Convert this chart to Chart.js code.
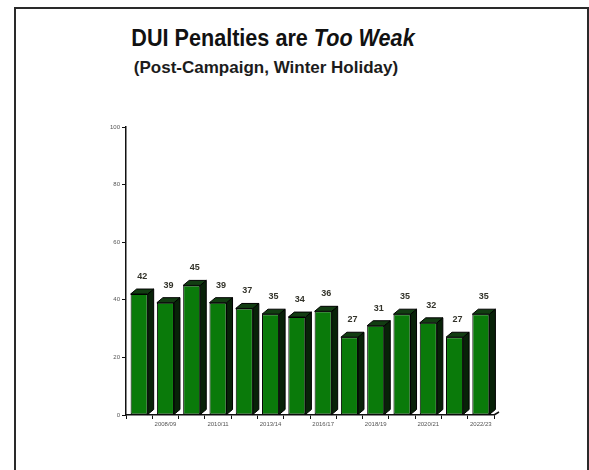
<!DOCTYPE html>
<html>
<head>
<meta charset="utf-8">
<script src="https://cdn.jsdelivr.net/npm/chart.js@4"></script>
<style>
    html, body { margin: 0; padding: 0; background: #fff; }
    #wrap { position: relative; width: 589px; height: 470px; overflow: hidden; font-family: "Liberation Sans", Arial, sans-serif; }
    #frame { position: absolute; left: 14px; top: 7px; width: 571px; height: 500px; border: 2px solid #2a2a2a; border-bottom: none; }
    .title { position: absolute; left: 0; width: 546px; text-align: center; font-weight: bold; color: #111; white-space: nowrap; }
    #t1 { top: 24px; font-size: 24px; line-height: 28px; transform: scaleX(0.9); }
    #t2 { top: 58px; width: 532px; font-size: 17px; line-height: 20px; color: #1c1c1c; }
    #chart { position: absolute; left: 0; top: 0; }
</style>
</head>
<body>
<div id="wrap">
    <div id="frame"></div>
    <div class="title" id="t1">DUI Penalties are <i>Too Weak</i></div>
    <div class="title" id="t2">(Post-Campaign, Winter Holiday)</div>
    <canvas id="chart" width="589" height="470"></canvas>
</div>
<script>
// datos
const tickLabels = ['', '2008/09', '', '2010/11', '', '2013/14', '', '2016/17', '', '2018/19', '', '2020/21', '', '2022/23'];
const values = [42, 39, 45, 39, 37, 35, 34, 36, 27, 31, 35, 32, 27, 35];
const yTicks = [0, 20, 40, 60, 80, 100];

// caras laterales y superior de las barras "3D" + etiquetas de valor
const bars3d = {
    id: 'bars3d',
    afterDatasetsDraw(chart) {
        const ctx = chart.ctx;
        const meta = chart.getDatasetMeta(0);
        const d = 6, dy = 5;
        ctx.save();
        meta.data.forEach((bar, i) => {
            const x0 = bar.x - bar.width / 2;
            const x1 = bar.x + bar.width / 2;
            const top = bar.y;
            const bottom = bar.base;
            ctx.lineWidth = 1;
            ctx.strokeStyle = '#000';
            // lado derecho
            ctx.beginPath();
            ctx.moveTo(x1, top);
            ctx.lineTo(x1 + d, top - dy);
            ctx.lineTo(x1 + d, bottom - dy);
            ctx.lineTo(x1, bottom);
            ctx.closePath();
            ctx.fillStyle = '#082208';
            ctx.fill();
            ctx.stroke();
            // cara superior
            ctx.beginPath();
            ctx.moveTo(x0, top);
            ctx.lineTo(x0 + d, top - dy);
            ctx.lineTo(x1 + d, top - dy);
            ctx.lineTo(x1, top);
            ctx.closePath();
            ctx.fillStyle = '#123d12';
            ctx.fill();
            ctx.stroke();
            // valor
            ctx.fillStyle = '#33332a';
            ctx.font = 'bold 9px "Liberation Sans", Arial, sans-serif';
            ctx.textAlign = 'center';
            ctx.textBaseline = 'alphabetic';
            ctx.fillText(values[i], bar.x + 3, top - 15);
        });
        // punta del eje x
        const area = chart.chartArea;
        ctx.beginPath();
        ctx.moveTo(area.right, area.bottom);
        ctx.lineTo(area.right + 5, area.bottom - 3);
        ctx.strokeStyle = '#111';
        ctx.lineWidth = 1.5;
        ctx.stroke();
        ctx.restore();
    }
};

const ctx = document.getElementById('chart').getContext('2d');
new Chart(ctx, {
    type: 'bar',
    data: {
        labels: tickLabels,
        datasets: [{
            data: values,
            backgroundColor: '#0a7a0a',
            borderColor: '#000',
            borderWidth: 1,
            borderSkipped: false,
            barPercentage: 0.65,
            categoryPercentage: 1
        }]
    },
    options: {
        responsive: false,
        animation: false,
        layout: { padding: { left: 0, top: 127, right: 95, bottom: 0 } },
        plugins: {
            legend: { display: false },
            tooltip: { enabled: false }
        },
        scales: {
            x: {
                offset: true,
                afterFit: function(scale) { scale.height = 55; },
                grid: { offset: true, drawOnChartArea: false, color: '#111', tickLength: 4, lineWidth: 1 },
                border: { color: '#111', width: 1.5 },
                ticks: {
                    autoSkip: false,
                    maxRotation: 0,
                    padding: 2,
                    color: '#555',
                    font: { size: 6, family: '"Liberation Sans", Arial, sans-serif' }
                }
            },
            y: {
                min: 0,
                max: 100,
                afterFit: function(scale) { scale.width = 126; },
                afterBuildTicks: function(scale) { scale.ticks = yTicks.map(v => ({ value: v })); },
                grid: { drawOnChartArea: false, color: '#111', tickLength: 4, lineWidth: 1 },
                border: { color: '#111', width: 1.5 },
                ticks: {
                    padding: 2,
                    color: '#555',
                    font: { size: 6, family: '"Liberation Sans", Arial, sans-serif' }
                }
            }
        }
    },
    plugins: [bars3d]
});
</script>
</body>
</html>
